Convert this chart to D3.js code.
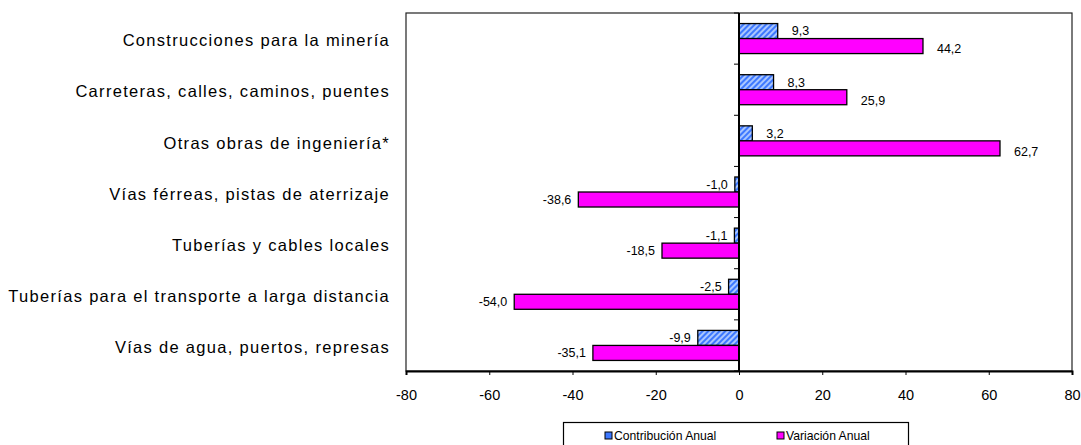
<!DOCTYPE html>
<html>
<head>
<meta charset="utf-8">
<script src="https://cdn.jsdelivr.net/npm/d3@7"></script>
<style>
  html, body { margin: 0; padding: 0; background: #fff; }
  svg { display: block; font-family: "Liberation Sans", Arial, sans-serif; }
</style>
</head>
<body>
<svg id="chart" width="1081" height="445"></svg>
<script>
const categories = [
  "Construcciones para la minería",
  "Carreteras, calles, caminos, puentes",
  "Otras obras de ingeniería*",
  "Vías férreas, pistas de aterrizaje",
  "Tuberías y cables locales",
  "Tuberías para el transporte a larga distancia",
  "Vías de agua, puertos, represas"
];
const contribucion = [9.3, 8.3, 3.2, -1.0, -1.1, -2.5, -9.9];
const variacion = [44.2, 25.9, 62.7, -38.6, -18.5, -54.0, -35.1];
const seriesNames = ["Contribución Anual", "Variación Anual"];
const xTicks = [-80, -60, -40, -20, 0, 20, 40, 60, 80];

const svg = d3.select("#chart");
const plot = { left: 406, right: 1072, top: 13, bottom: 371 };

const defs = svg.append("defs");
const pat = defs.append("pattern")
  .attr("id", "hatch").attr("patternUnits", "userSpaceOnUse")
  .attr("width", 4).attr("height", 4)
  .attr("patternTransform", "rotate(45)");
pat.append("rect").attr("width", 4).attr("height", 4).attr("fill", "#3d78ff");
pat.append("rect").attr("width", 2).attr("height", 4).attr("fill", "#a9c6ff");

const x = d3.scaleLinear().domain([-80, 80]).range([plot.left, plot.right]);
const y = d3.scaleBand().domain(categories).range([plot.top, plot.bottom])
  .paddingInner(0.413).paddingOuter(0.2065);
const sub = d3.scaleBand().domain(seriesNames).range([0, y.bandwidth()]);

// plot border
svg.append("rect")
  .attr("x", plot.left).attr("y", plot.top)
  .attr("width", plot.right - plot.left).attr("height", plot.bottom - plot.top)
  .attr("fill", "none").attr("stroke", "#222").attr("stroke-width", 1.2);

const data = categories.map((c, i) => ({ c, vals: [contribucion[i], variacion[i]] }));

const fmt = v => v.toFixed(1).replace(".", ",");

const g = svg.append("g");
data.forEach(d => {
  d.vals.forEach((v, j) => {
    const s = seriesNames[j];
    const y0 = y(d.c) + sub(s);
    const h = sub.bandwidth();
    g.append("rect")
      .attr("x", Math.min(x(0), x(v)))
      .attr("y", y0)
      .attr("width", Math.abs(x(v) - x(0)))
      .attr("height", h)
      .attr("fill", j === 0 ? "url(#hatch)" : "#ff00ff")
      .attr("stroke", "#000").attr("stroke-width", 1.3);
    g.append("text")
      .attr("x", v >= 0 ? x(v) + 14 : x(v) - 7)
      .attr("y", y0 + h / 2 + (j === 1 && v >= 0 ? 3 : 0))
      .attr("dy", "0.35em")
      .attr("text-anchor", v >= 0 ? "start" : "end")
      .attr("font-size", 12.5)
      .attr("fill", "#000")
      .text(fmt(v));
  });
});

// y axis at zero with ticks at band boundaries
const boundaries = d3.range(categories.length + 1).map(i => plot.top + i * y.step());
svg.append("line")
  .attr("x1", x(0)).attr("x2", x(0))
  .attr("y1", plot.top).attr("y2", plot.bottom)
  .attr("stroke", "#000").attr("stroke-width", 2);
svg.selectAll(".ytick").data(boundaries).enter().append("line")
  .attr("x1", x(0) - 5).attr("x2", x(0))
  .attr("y1", d => d).attr("y2", d => d)
  .attr("stroke", "#000").attr("stroke-width", 1);

// category labels
svg.selectAll(".cat").data(categories).enter().append("text")
  .attr("x", 390)
  .attr("y", d => y(d) + y.bandwidth() / 2 + 2)
  .attr("dy", "0.35em")
  .attr("text-anchor", "end")
  .attr("font-size", 16.5)
  .attr("letter-spacing", "1.3px")
  .attr("fill", "#000")
  .text(d => d);

// x axis
const xAxis = d3.axisBottom(x).tickValues(xTicks).tickSize(4).tickFormat(d => String(d));
const ax = svg.append("g").attr("transform", `translate(0,${plot.bottom})`).call(xAxis);
ax.select(".domain").attr("stroke-width", 2);
ax.selectAll("text").attr("font-size", 14.5).attr("dy", "1.55em")
  .attr("font-family", "Liberation Sans, Arial, sans-serif");

// legend
const lg = svg.append("g");
lg.append("rect").attr("x", 563.5).attr("y", 422.5).attr("width", 345).attr("height", 30)
  .attr("fill", "#fff").attr("stroke", "#000").attr("stroke-width", 1.2);
const legendItems = [
  { name: seriesNames[0], fill: "#3d78ff", sx: 605, tx: 614 },
  { name: seriesNames[1], fill: "#ff00ff", sx: 777, tx: 786 }
];
legendItems.forEach(it => {
  lg.append("rect").attr("x", it.sx).attr("y", 432).attr("width", 7).attr("height", 7)
    .attr("fill", it.fill).attr("stroke", "#000").attr("stroke-width", 1);
  lg.append("text").attr("x", it.tx).attr("y", 436).attr("dy", "0.35em")
    .attr("font-size", 12.2).attr("fill", "#000").text(it.name);
});
</script>
</body>
</html>
